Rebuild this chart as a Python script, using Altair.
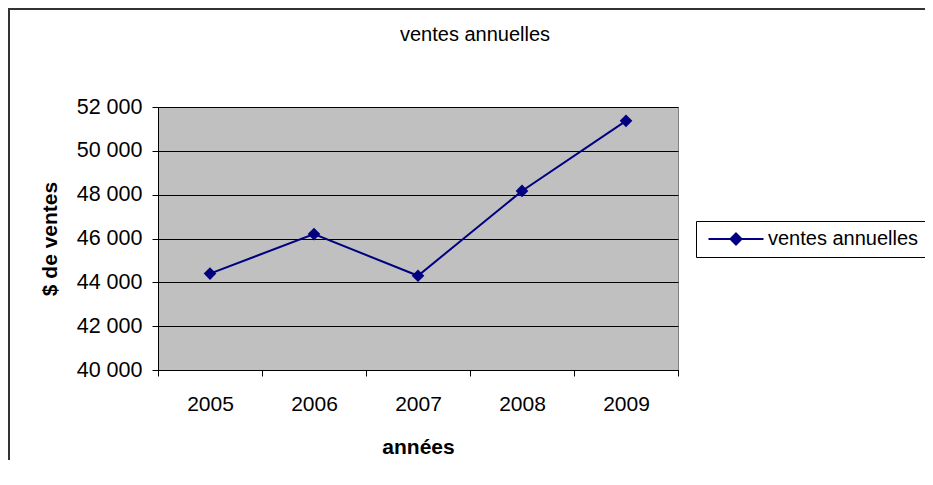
import altair as alt
import pandas as pd

annees = ["2005", "2006", "2007", "2008", "2009"]
ventes = [44400, 46200, 44300, 48170, 51370]
serie = ["ventes annuelles"] * 5
y_ticks = [40000, 42000, 44000, 46000, 48000, 50000, 52000]

df = pd.DataFrame({"annee": annees, "ventes": ventes, "serie": serie})

FONT = "Liberation Sans"
NAVY = "#000080"

x_enc = alt.X(
    "annee:N",
    bandPosition=0.5,
    scale=alt.Scale(type="band", paddingInner=0, paddingOuter=0),
    axis=alt.Axis(
        title="années", titleFontWeight="bold", titleFontSize=21, titleFont=FONT,
        titlePadding=22, labelFontSize=21, labelFont=FONT, labelAngle=0,
        labelPadding=17, tickBand="extent", tickSize=6, tickColor="black",
        domainColor="black", labelColor="black", titleColor="black", grid=False,
    ),
)
y_enc = alt.Y(
    "ventes:Q",
    scale=alt.Scale(domain=[40000, 52000], nice=False, zero=False),
    axis=alt.Axis(
        title="$ de ventes", titleFontWeight="bold", titleFontSize=21, titleFont=FONT,
        titlePadding=16, values=y_ticks,
        labelExpr="replace(format(datum.value, ','), ',', ' ')",
        labelFontSize=21.5, labelFont=FONT, labelPadding=10, tickSize=6,
        tickColor="black", domainColor="black", gridColor="black", gridWidth=1,
        labelColor="black", titleColor="black",
    ),
)

frame = alt.Chart(alt.Data(values=[{"a": 1}])).mark_rect(
    fill="white", fillOpacity=0, stroke="#333333", strokeWidth=2
).encode(
    x=alt.value(-149), x2=alt.value(900), y=alt.value(-98), y2=alt.value(500)
)

line = alt.Chart(df).mark_line(color=NAVY, strokeWidth=2).encode(x=x_enc, y=y_enc)

symbol_path = "M-1,0H9M4,-1L5,0L4,1L3,0Z"
points = alt.Chart(df).mark_point(shape="diamond", filled=True, size=160, opacity=1).encode(
    x=x_enc,
    y=y_enc,
    color=alt.Color(
        "serie:N",
        scale=alt.Scale(domain=["ventes annuelles"], range=[NAVY]),
        legend=alt.Legend(
            title=None, orient="none", legendX=538, legendY=114,
            strokeColor="black", fillColor="white", padding=8,
            labelFontSize=20, labelFont=FONT, labelColor="black", labelLimit=400,
            symbolType=symbol_path, symbolSize=121, labelOffset=44,
            symbolFillColor=NAVY, symbolStrokeColor=NAVY, symbolStrokeWidth=2,
            symbolOpacity=1,
        ),
    ),
)

chart = alt.layer(frame, line, points).properties(
    width=520,
    height=263,
    title=alt.Title("ventes annuelles", fontSize=20, font=FONT, fontWeight="normal",
                    color="black", anchor="middle", dx=57, offset=-53,
                    baseline="alphabetic"),
    autosize=alt.AutoSizeParams(type="none"),
    padding={"left": 150, "top": 99, "right": 247, "bottom": 90},
).configure(
    background="white"
).configure_view(
    fill="#c0c0c0", stroke="#808080", strokeWidth=1
)

chart.save("out.html", embed_options={"renderer": "svg", "actions": False})
